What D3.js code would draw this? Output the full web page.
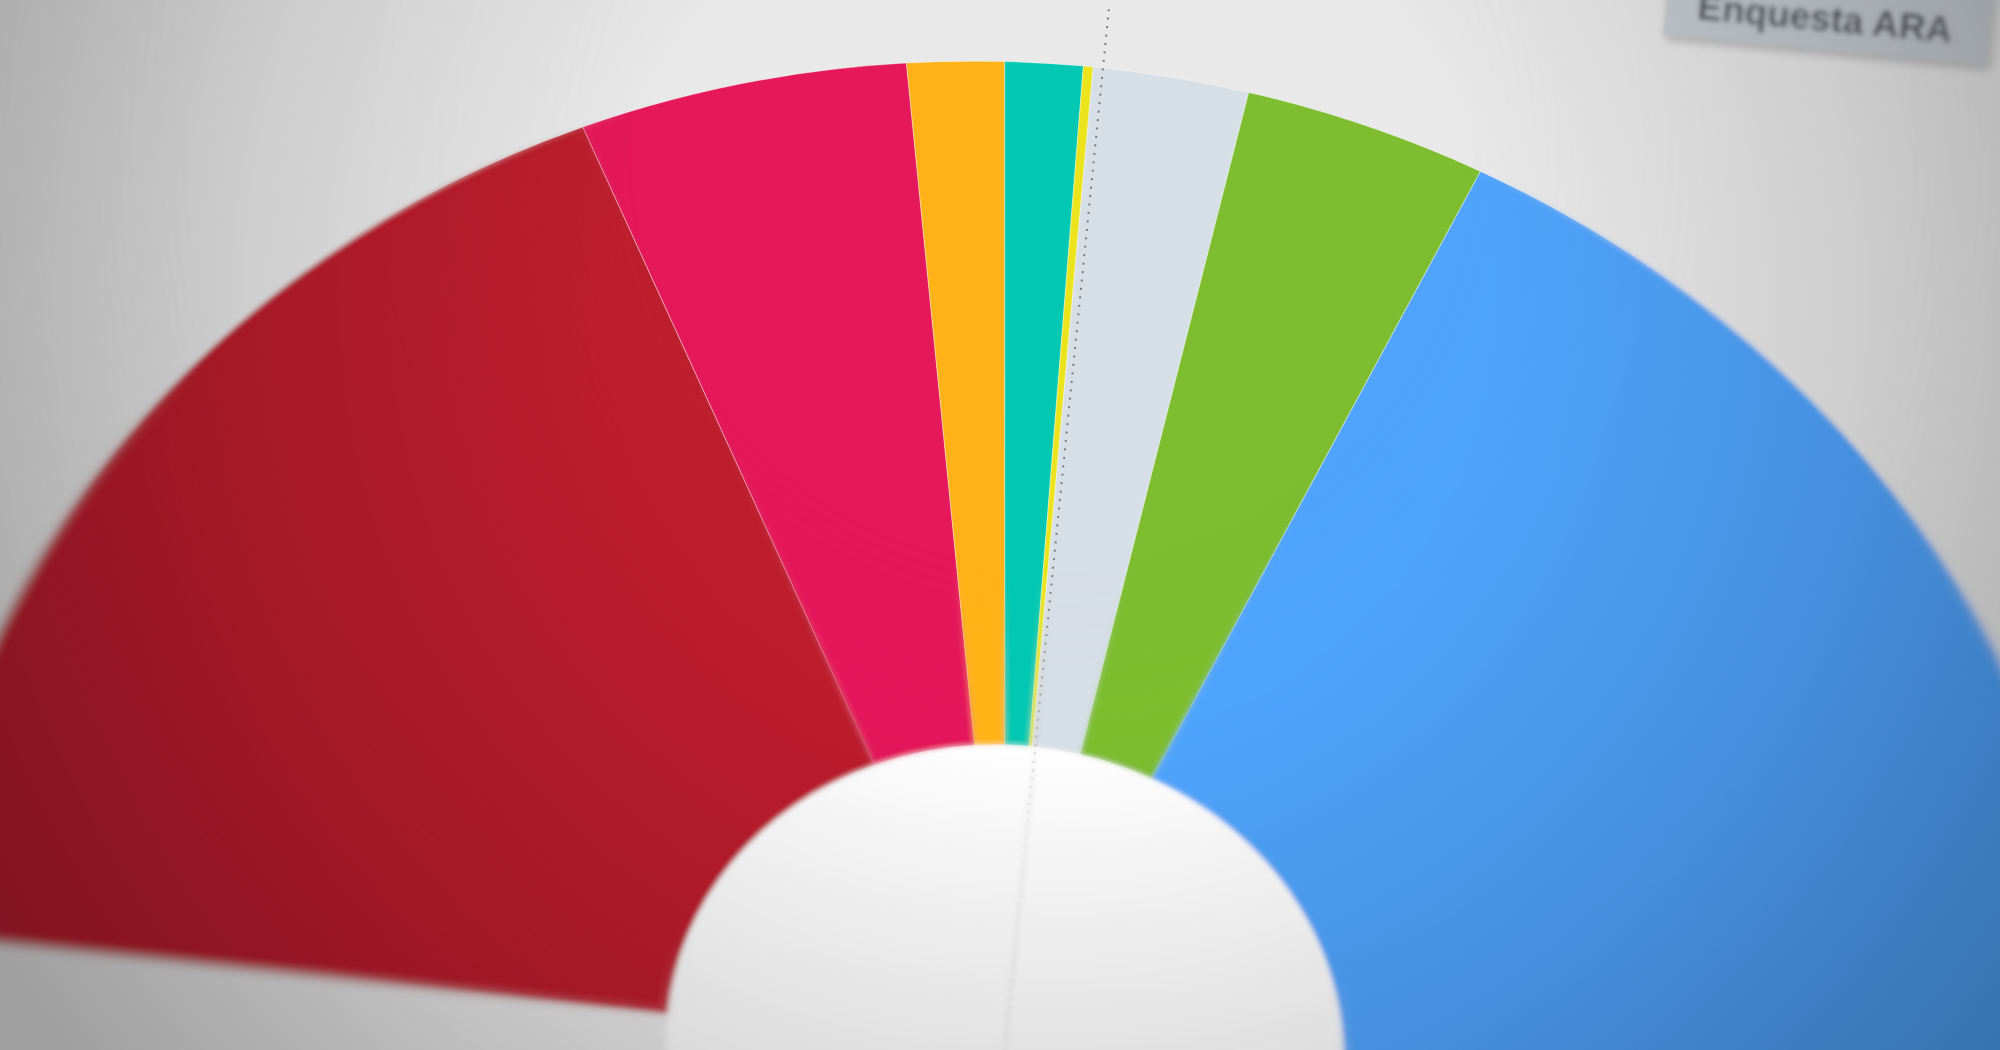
<!DOCTYPE html>
<html>
<head>
<meta charset="utf-8">
<script src="https://cdn.jsdelivr.net/npm/d3@7"></script>
<style>
  body { margin: 0; overflow: hidden; background: #e9e9e9; }
</style>
</head>
<body>
<div id="viz"></div>
<script>
const width = 2000;
const height = 1050;

// Seats per party, left to right
const parties = ['PSOE', 'Sumar', 'ERC', 'Junts', 'CUP', 'Altres', 'Vox', 'PP'];
const seats = [121, 34, 10, 8, 1, 16, 25, 135];
const partyColors = ['#bd1f2d', '#e5185b', '#ffb318', '#00c8b2', '#ebe41c', '#d6dee6', '#7dbd2f', '#50a4fd'];
const sourceLabel = 'Enquesta ARA';

const data = parties.map((p, i) => ({party: p, seats: seats[i], color: partyColors[i]}));
const totalSeats = d3.sum(seats);

// flat hemicycle size, then tilted onto the photo with an affine matrix
const outerRadius = 1000;
const innerRadius = 309;
const lineLength = 1060;
const tilt = 'matrix(1.092,0.116,-0.098,0.982,1005,1050)';

const svg = d3.select('#viz')
  .append('svg')
    .attr('width', width)
    .attr('height', height);

const defs = svg.append('defs');

// blur filters for the out-of-focus edges
[['blurSoft', 2.5], ['blurStrong', 6]].forEach(([id, dev]) => {
  defs.append('filter')
      .attr('id', id)
      .attr('filterUnits', 'userSpaceOnUse')
      .attr('x', -100).attr('y', -100)
      .attr('width', width + 200).attr('height', height + 200)
    .append('feGaussianBlur')
      .attr('stdDeviation', dev);
});

// masks that bring the blur in away from the focus point
[['maskSoft', 0.38, 0.62], ['maskStrong', 0.78, 1.0]].forEach(([id, a, b]) => {
  const g = defs.append('radialGradient')
      .attr('id', id + 'Grad')
      .attr('gradientUnits', 'userSpaceOnUse')
      .attr('cx', 1050).attr('cy', 150).attr('r', 1100);
  g.append('stop').attr('offset', a).attr('stop-color', '#000');
  g.append('stop').attr('offset', b).attr('stop-color', '#fff');
  defs.append('mask')
      .attr('id', id)
      .attr('maskUnits', 'userSpaceOnUse')
      .attr('x', 0).attr('y', 0).attr('width', width).attr('height', height)
    .append('rect')
      .attr('width', width).attr('height', height)
      .attr('fill', `url(#${id}Grad)`);
});

// vignette
const vignette = defs.append('radialGradient')
    .attr('id', 'vignette')
    .attr('gradientUnits', 'userSpaceOnUse')
    .attr('cx', 1050).attr('cy', 300).attr('r', 1250);
[[0, 0], [0.35, 0], [0.65, 0.12], [0.85, 0.24], [1, 0.32]].forEach(([o, op]) => {
  vignette.append('stop').attr('offset', o).attr('stop-color', '#000').attr('stop-opacity', op);
});

// hole shading
const holeGrad = defs.append('linearGradient')
    .attr('id', 'holeGrad')
    .attr('x1', 0).attr('y1', 0).attr('x2', 0).attr('y2', 1);
holeGrad.append('stop').attr('offset', 0).attr('stop-color', '#ffffff');
holeGrad.append('stop').attr('offset', 0.5).attr('stop-color', '#fcfcfc');
holeGrad.append('stop').attr('offset', 1).attr('stop-color', '#f4f4f4');

const labelShadow = defs.append('filter')
    .attr('id', 'labelShadow')
    .attr('x', '-20%').attr('y', '-50%').attr('width', '140%').attr('height', '200%');
labelShadow.append('feDropShadow')
    .attr('dx', 3).attr('dy', 4)
    .attr('stdDeviation', 4)
    .attr('flood-color', '#000')
    .attr('flood-opacity', 0.25);

// Scene: everything that gets photographed
const scene = svg.append('g').attr('id', 'scene');

scene.append('rect')
    .attr('x', -100).attr('y', -100)
    .attr('width', width + 200).attr('height', height + 200)
    .attr('fill', '#e9e9e9');

const hemi = scene.append('g')
    .attr('class', 'hemicycle')
    .attr('transform', tilt);

const pie = d3.pie()
    .sort(null)
    .value(d => d.seats)
    .startAngle(-Math.PI / 2)
    .endAngle(Math.PI / 2);

const arc = d3.arc()
    .innerRadius(innerRadius)
    .outerRadius(outerRadius);

hemi.append('circle')
    .attr('r', innerRadius)
    .attr('fill', 'url(#holeGrad)');

hemi.selectAll('.seat-slice')
  .data(pie(data))
  .join('path')
    .attr('class', d => `seat-slice slice-${d.data.party}`)
    .attr('d', arc)
    .attr('fill', d => d.data.color)
    .attr('stroke', '#ffffff')
    .attr('stroke-opacity', 0.35)
    .attr('stroke-width', 1);

// Majority line at half of the chamber
const seatAngle = d3.scaleLinear()
    .domain([0, totalSeats])
    .range([-Math.PI / 2, Math.PI / 2]);
const midAngle = seatAngle(totalSeats / 2);

hemi.append('line')
    .attr('class', 'majority-line')
    .attr('x1', 0)
    .attr('y1', 0)
    .attr('x2', Math.sin(midAngle) * lineLength)
    .attr('y2', -Math.cos(midAngle) * lineLength)
    .attr('stroke', '#7a7a7a')
    .attr('stroke-width', 1.8)
    .attr('stroke-dasharray', '2 6.6');

// Source label, top right
const label = scene.append('g')
    .attr('class', 'source-label')
    .attr('transform', 'translate(1663,35) rotate(5.3)');
label.append('rect')
    .attr('x', 0).attr('y', -90)
    .attr('width', 325).attr('height', 90)
    .attr('fill', '#c6cbd1')
    .attr('filter', 'url(#labelShadow)');
label.append('text')
    .attr('x', 32)
    .attr('y', -19)
    .attr('fill', '#50545a')
    .style('font-family', '"Liberation Sans", Arial, sans-serif')
    .style('font-weight', 700)
    .style('font-size', '37px')
    .text(sourceLabel);

// Depth of field: blurred copies of the scene towards the edges
svg.append('use')
    .attr('href', '#scene')
    .attr('filter', 'url(#blurSoft)')
    .attr('mask', 'url(#maskSoft)');
svg.append('use')
    .attr('href', '#scene')
    .attr('filter', 'url(#blurStrong)')
    .attr('mask', 'url(#maskStrong)');

svg.append('rect')
    .attr('width', width)
    .attr('height', height)
    .attr('fill', 'url(#vignette)')
    .style('pointer-events', 'none');
</script>
</body>
</html>
